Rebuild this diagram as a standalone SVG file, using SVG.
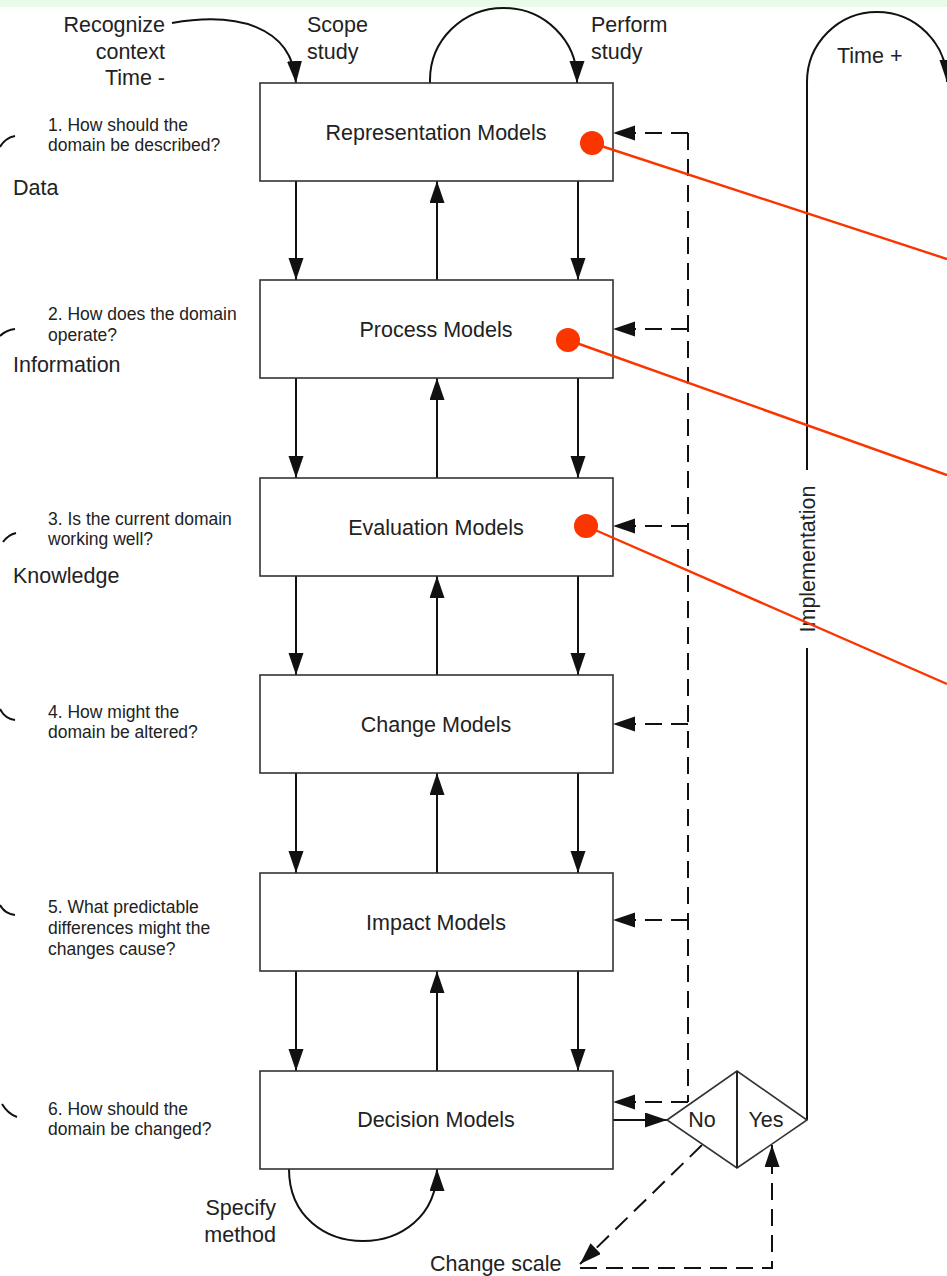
<svg xmlns="http://www.w3.org/2000/svg" width="947" height="1276" viewBox="0 0 947 1276">
<style>
.box{fill:#fff;stroke:#333;stroke-width:1.6}
.lbl{font-family:"Liberation Sans",Arial,sans-serif;font-size:21.5px;fill:#222}
.q{font-family:"Liberation Sans",Arial,sans-serif;font-size:17.5px;fill:#222}
.c{fill:none;stroke:#111;stroke-width:2}
.d{fill:none;stroke:#111;stroke-width:2;stroke-dasharray:17 9}
.red{stroke:#fa3500;stroke-width:2.4;fill:none}
.dot{fill:#fa3500}
</style>
<defs>
<marker id="ah" markerUnits="userSpaceOnUse" markerWidth="24" markerHeight="16" refX="22" refY="7.5" orient="auto">
<path d="M0,0 L22,7.5 L0,15 z" fill="#111"/>
</marker>
</defs>
<rect x="0" y="0" width="947" height="7" fill="#e8fbe8"/>

<g id="side-labels">
<text class="lbl" text-anchor="end" x="165" y="32">Recognize</text>
<text class="lbl" text-anchor="end" x="165" y="59">context</text>
<text class="lbl" text-anchor="end" x="165" y="85">Time -</text>
<text class="lbl" x="307" y="32">Scope</text>
<text class="lbl" x="307" y="59">study</text>
<text class="lbl" x="591" y="32">Perform</text>
<text class="lbl" x="591" y="59">study</text>
<text class="lbl" x="837" y="63">Time +</text>
<text class="lbl" text-anchor="middle" transform="translate(815,559) rotate(-90)">Implementation</text>
<text class="lbl" text-anchor="end" x="276" y="1215">Specify</text>
<text class="lbl" text-anchor="end" x="276" y="1242">method</text>
<text class="lbl" x="430" y="1271">Change scale</text>
<text class="lbl" x="13" y="195">Data</text>
<text class="lbl" x="13" y="372">Information</text>
<text class="lbl" x="13" y="583">Knowledge</text>
</g>

<g id="questions">
<text class="q" x="48" y="131">1. How should the<tspan x="48" y="151">domain be described?</tspan></text>
<text class="q" x="48" y="320">2. How does the domain<tspan x="48" y="341">operate?</tspan></text>
<text class="q" x="48" y="525">3. Is the current domain<tspan x="48" y="545">working well?</tspan></text>
<text class="q" x="48" y="718">4. How might the<tspan x="48" y="738">domain be altered?</tspan></text>
<text class="q" x="48" y="913">5. What predictable<tspan x="48" y="934">differences might the</tspan><tspan x="48" y="955">changes cause?</tspan></text>
<text class="q" x="48" y="1115">6. How should the<tspan x="48" y="1135">domain be changed?</tspan></text>
<path class="c" d="M15,136 Q5,138 0,147"/>
<path class="c" d="M15,329 Q6,330 0,336"/>
<path class="c" d="M16,533 Q8,535 3,542"/>
<path class="c" d="M0,709 Q5,719 15,720"/>
<path class="c" d="M0,905 Q5,914 15,915"/>
<path class="c" d="M2,1104 Q8,1114 17,1117"/>
</g>

<g id="connectors">
<path class="c" d="M172,23 C235,12 292,25 296,83" marker-end="url(#ah)"/>
<path class="c" d="M430,83 L430,80 A73.5,72 0 0 1 577,80 L577,83" marker-end="url(#ah)"/>
<path class="c" d="M289,1169 C289,1265 437,1265 437,1169" marker-end="url(#ah)"/>
<path class="c" d="M807,1120 L807,648 M807,470 L807,82 A70,70 0 0 1 947,82" marker-end="url(#ah)"/>
<path class="c" d="M296,181 L296,280" marker-end="url(#ah)"/>
<path class="c" d="M437,280 L437,181" marker-end="url(#ah)"/>
<path class="c" d="M578,181 L578,280" marker-end="url(#ah)"/>
<path class="c" d="M296,378 L296,478" marker-end="url(#ah)"/>
<path class="c" d="M437,478 L437,378" marker-end="url(#ah)"/>
<path class="c" d="M578,378 L578,478" marker-end="url(#ah)"/>
<path class="c" d="M296,576 L296,675" marker-end="url(#ah)"/>
<path class="c" d="M437,675 L437,576" marker-end="url(#ah)"/>
<path class="c" d="M578,576 L578,675" marker-end="url(#ah)"/>
<path class="c" d="M296,773 L296,873" marker-end="url(#ah)"/>
<path class="c" d="M437,873 L437,773" marker-end="url(#ah)"/>
<path class="c" d="M578,773 L578,873" marker-end="url(#ah)"/>
<path class="c" d="M296,971 L296,1071" marker-end="url(#ah)"/>
<path class="c" d="M437,1071 L437,971" marker-end="url(#ah)"/>
<path class="c" d="M578,971 L578,1071" marker-end="url(#ah)"/>
<path class="c" d="M613,1120 L667,1120" marker-end="url(#ah)"/>
<path class="d" d="M688,133 L688,1102"/>
<path class="d" d="M688,133 L613,133" marker-end="url(#ah)"/>
<path class="d" d="M688,329 L613,329" marker-end="url(#ah)"/>
<path class="d" d="M688,526 L613,526" marker-end="url(#ah)"/>
<path class="d" d="M688,724 L613,724" marker-end="url(#ah)"/>
<path class="d" d="M688,920 L613,920" marker-end="url(#ah)"/>
<path class="d" d="M688,1102 L613,1102" marker-end="url(#ah)"/>
<path class="d" d="M702,1145 L580,1264" marker-end="url(#ah)"/>
<path class="d" d="M580,1268 L772,1268 L772,1145" marker-end="url(#ah)"/>
</g>

<g id="box1"><rect class="box" x="260" y="83" width="353" height="98"/><text class="lbl" text-anchor="middle" x="436" y="140">Representation Models</text></g>
<g id="box2"><rect class="box" x="260" y="280" width="353" height="98"/><text class="lbl" text-anchor="middle" x="436" y="337">Process Models</text></g>
<g id="box3"><rect class="box" x="260" y="478" width="353" height="98"/><text class="lbl" text-anchor="middle" x="436" y="535">Evaluation Models</text></g>
<g id="box4"><rect class="box" x="260" y="675" width="353" height="98"/><text class="lbl" text-anchor="middle" x="436" y="732">Change Models</text></g>
<g id="box5"><rect class="box" x="260" y="873" width="353" height="98"/><text class="lbl" text-anchor="middle" x="436" y="930">Impact Models</text></g>
<g id="box6"><rect class="box" x="260" y="1071" width="353" height="98"/><text class="lbl" text-anchor="middle" x="436" y="1127">Decision Models</text></g>

<g id="decision">
<polygon points="667,1120 737,1071 807,1120 737,1168" fill="#fff" stroke="#333" stroke-width="1.6"/>
<line x1="737" y1="1071" x2="737" y2="1168" stroke="#222" stroke-width="2"/>
<text class="lbl" text-anchor="middle" x="702" y="1127">No</text>
<text class="lbl" text-anchor="middle" x="766" y="1127">Yes</text>
</g>

<g id="annotations">
<line class="red" x1="592" y1="143" x2="947" y2="259"/>
<line class="red" x1="568" y1="340" x2="947" y2="475"/>
<line class="red" x1="586" y1="526" x2="947" y2="684"/>
<circle class="dot" cx="592" cy="143" r="12"/>
<circle class="dot" cx="568" cy="340" r="12"/>
<circle class="dot" cx="586" cy="526" r="12"/>
</g>
</svg>
